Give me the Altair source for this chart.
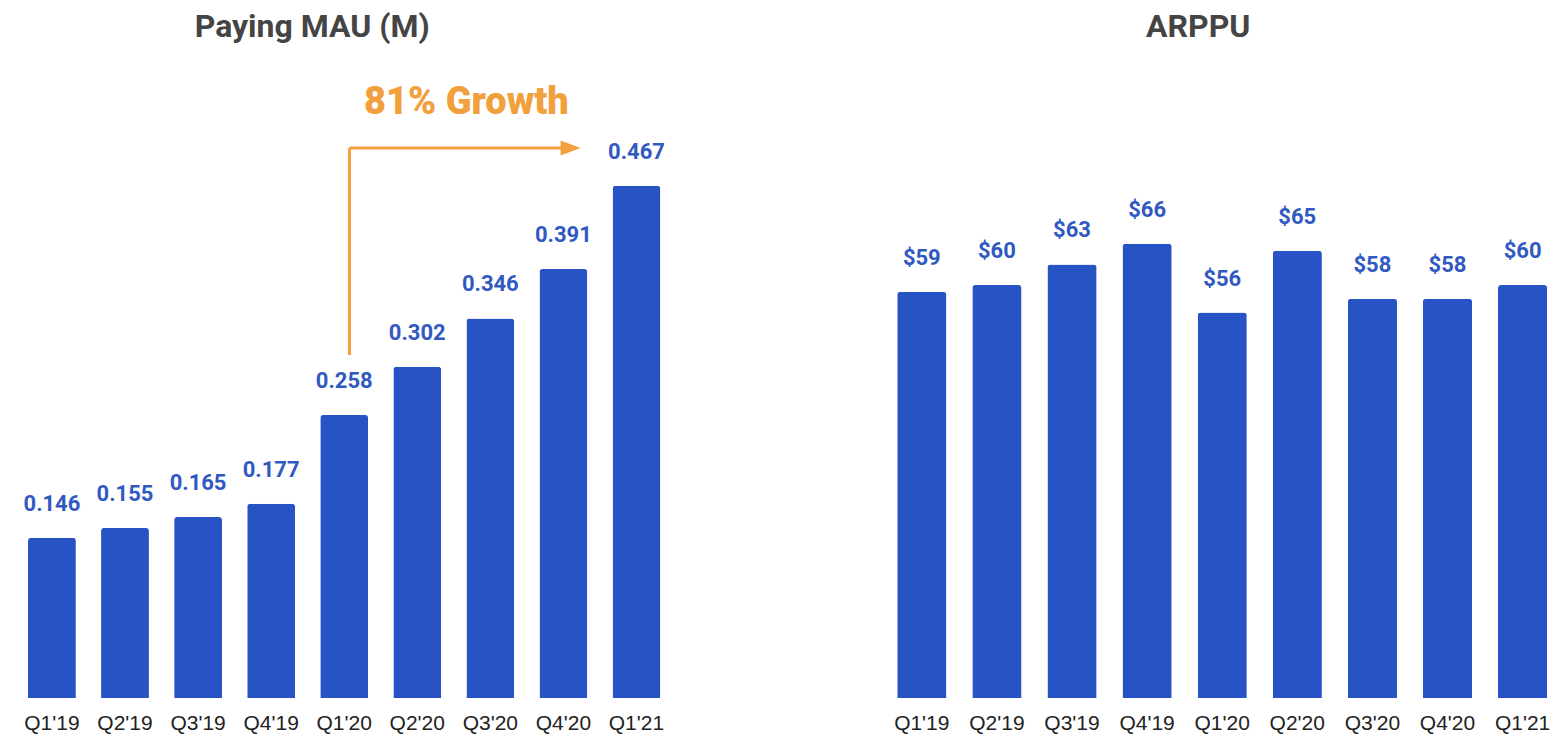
import altair as alt
import pandas as pd

quarters = ["Q1'19", "Q2'19", "Q3'19", "Q4'19", "Q1'20", "Q2'20", "Q3'20", "Q4'20", "Q1'21"]
mau = [0.146, 0.155, 0.165, 0.177, 0.258, 0.302, 0.346, 0.391, 0.467]
arppu = [59, 60, 63, 66, 56, 65, 58, 58, 60]

BAR = "#2853C4"
LBL = "#3059C1"
ORANGE = "#F1A03B"

df_mau = pd.DataFrame({"q": quarters, "v": mau})
df_arppu = pd.DataFrame({"q": quarters, "v": arppu})

# growth annotation (from Q1'20 to Q1'21)
ann_start = "Q1'20"
ann_end = "Q4'20"
ann_text_at = "Q3'20"
ann_label = "81% Growth"
ann_low = 0.3127
ann_high = 0.5014
ann_text_y = 0.542

H = 638


def xscale():
    return alt.Scale(domain=quarters, paddingInner=0.345, paddingOuter=0.1)


def xenc():
    return alt.X("q:N", title=None, scale=xscale(),
                 axis=alt.Axis(domain=False, ticks=False, grid=False, labelAngle=0,
                               labelFont="Liberation Sans", labelFontSize=21,
                               labelColor="#222222", labelPadding=15))


def panel_layers(df, dom, fmt):
    base = alt.Chart(df).encode(
        x=xenc(),
        y=alt.Y("v:Q", scale=alt.Scale(domain=[0, dom], nice=False, zero=True), axis=None),
    )
    bars = base.mark_bar(color=BAR, cornerRadiusTopLeft=3, cornerRadiusTopRight=3)
    labels = base.mark_text(baseline="alphabetic", dy=-27, font="Roboto", fontWeight="bold",
                            fontSize=22, color=LBL).encode(text=alt.Text("v:Q", format=fmt))
    return [bars, labels]


def ttl(text, dx):
    return alt.TitleParams(text, font="Roboto", fontSize=32, fontWeight="bold",
                           color="#444444", anchor="middle", offset=16, dx=dx)


vline_df = pd.DataFrame({"q": [ann_start], "y1": [ann_low], "y2": [ann_high]})
hline_df = pd.DataFrame({"q": [ann_start], "q2": [ann_end], "y": [ann_high]})
head_df = pd.DataFrame({"q": [ann_end], "y": [ann_high]})
text_df = pd.DataFrame({"q": [ann_text_at], "y": [ann_text_y], "t": [ann_label]})

vline = alt.Chart(vline_df).mark_rule(color=ORANGE, strokeWidth=3).encode(
    x=alt.X("q:N", scale=xscale(), bandPosition=0.61),
    y="y1:Q", y2="y2:Q")
hline = alt.Chart(hline_df).mark_rule(color=ORANGE, strokeWidth=3).encode(
    x=alt.X("q:N", scale=xscale(), bandPosition=0.61),
    x2=alt.X2("q2", bandPosition=0.5),
    y="y:Q")
head = alt.Chart(head_df).mark_point(shape="M-1,-0.75L1,0L-1,0.75Z", filled=True, opacity=1,
                                     color=ORANGE, size=400, strokeWidth=0).encode(
    x=alt.X("q:N", scale=xscale(), bandPosition=0.65),
    y="y:Q")
gtext = alt.Chart(text_df).mark_text(font="Roboto", fontWeight=900, fontSize=38, color=ORANGE,
                                     baseline="middle").encode(
    x=alt.X("q:N", scale=xscale(), bandPosition=0.0),
    y="y:Q", text="t:N")

left = alt.layer(*panel_layers(df_mau, 0.5816, ".3f"), vline, hline, head, gtext).properties(
    width=647, height=H, title=ttl("Paying MAU (M)", -32))

right = alt.layer(*panel_layers(df_arppu, 92.7, "$,.0f")).properties(
    width=665, height=H, title=ttl("ARPPU", -24))

chart = alt.hconcat(left, right, spacing=222).configure_view(stroke=None).properties(
    padding={"left": 12.7, "top": 3, "right": 0, "bottom": 0})

chart.save("out.html", embed_options={"renderer": "svg", "actions": False})
